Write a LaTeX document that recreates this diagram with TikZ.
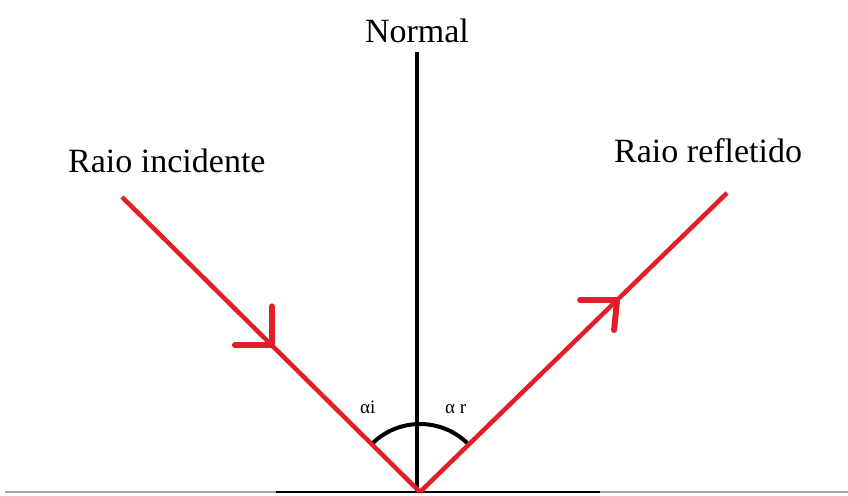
\documentclass[tikz,border=0pt]{standalone}
\usepackage{fontspec}
\setmainfont{Liberation Serif}
\definecolor{rayred}{RGB}{226,30,40}
\begin{document}
\begin{tikzpicture}[x=1pt,y=-1pt,
  ray/.style={draw=rayred,line width=4.5pt},
  barb/.style={draw=rayred,line width=6pt,line cap=round},
  normalline/.style={draw=black,line width=3.5pt},
  anglearc/.style={draw=black,line width=4pt},
  bigtext/.style={font=\fontsize{34}{40}\selectfont,inner sep=0pt},
  smalltext/.style={font=\fontsize{19}{22}\selectfont,inner sep=0pt}]
\useasboundingbox (0,0) rectangle (848,495);
% surface
\draw[gray!70,line width=1.5pt] (5,492) -- (848,492);
\draw[black,line width=2.5pt] (276,492) -- (600,492);
% points
\coordinate (apex) at (420,492);
\coordinate (ntop) at (417,52);
\coordinate (nbot) at (417,492);
\coordinate (inc) at (122,197);
\coordinate (refl) at (727,193);
% normal
\draw[normalline] (ntop) -- (nbot);
% arc
\draw[anglearc] (apex) ++(225:68) arc[start angle=225,end angle=315,radius=68];
% rays
\draw[ray] (inc) -- coordinate[pos=0.503] (itip) (apex);
\draw[ray] (apex) -- coordinate[pos=0.642] (rtip) (refl);
% arrow barbs
\draw[barb] (itip) -- ++(0,-39);
\draw[barb] (itip) -- ++(-37,0);
\draw[barb] (rtip) -- ++(-37,0);
\draw[barb] (rtip) -- ++(-3,30);
% labels
\node[bigtext,anchor=base] (lnormal) at (417,43) {Normal};
\node[bigtext,anchor=base west] (linc) at (68,172) {Raio incidente};
\node[bigtext,anchor=base west] (lrefl) at (614,162) {Raio refletido};
\node[smalltext,anchor=base west] (lai) at (360,413) {αi};
\node[smalltext,anchor=base west] (lar) at (445,413) {α r};
\end{tikzpicture}
\end{document}
